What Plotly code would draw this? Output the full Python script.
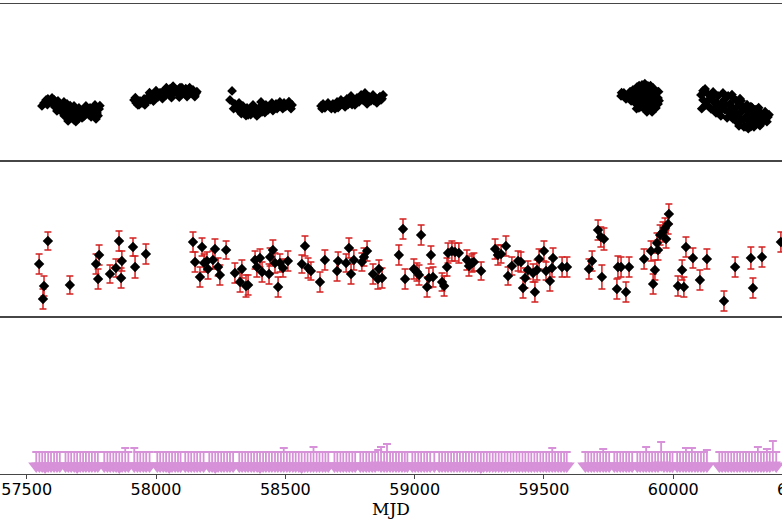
import plotly.graph_objects as go
from plotly.subplots import make_subplots

# ---------------- data ----------------
x_range = [57396.8, 60420.3]
tick_vals = [57500, 58000, 58500, 59000, 59500, 60000]
tick_text = ["57500", "58000", "58500", "59000", "59500", "60000"]
cut_tick_text = "60500"
cut_tick_val = 60500
x_title = "MJD"

# top panel: dense optical light curve (arbitrary flux units)
s1_mjd = [57559, 57567, 57575, 57582, 57590, 57598, 57606, 57613, 57609, 57621,
          57629, 57637, 57629, 57640, 57648, 57652, 57660, 57660, 57667, 57671,
          57679, 57683, 57691, 57695, 57702, 57706, 57714, 57718, 57725, 57729,
          57737, 57745, 57749, 57756, 57764, 57772, 57780, 57768, 57644, 57617,
          57675, 57698, 57722, 57656, 57683,
          57580, 57600, 57625, 57635, 57645, 57655, 57665, 57668, 57680, 57688,
          57700, 57710, 57720, 57733, 57740, 57752, 57760, 57776, 57783, 57662,
          57690]
s1_val = [5.47, 5.77, 6.07, 6.17, 5.97, 6.27, 6.07, 5.77, 5.37, 5.97,
          5.67, 5.47, 5.07, 4.77, 5.27, 4.47, 3.97, 4.87, 4.27, 5.17,
          4.67, 4.07, 4.97, 4.37, 5.27, 4.67, 4.27, 5.07, 4.57, 5.47,
          4.87, 5.27, 4.37, 4.87, 5.57, 4.77, 5.17, 4.17, 5.87, 4.97,
          4.57, 4.87, 4.77, 5.67, 5.47,
          5.6, 5.7, 5.3, 5.0, 4.5, 5.0, 4.7, 5.5, 5.2, 4.5,
          4.2, 5.0, 4.4, 5.1, 4.6, 5.1, 4.5, 4.5, 5.5, 4.2,
          3.9]
s2_mjd = [57915, 57923, 57930, 57938, 57946, 57954, 57961, 57969, 57977, 57984,
          57992, 58000, 58008, 58015, 58023, 58031, 58039, 58046, 58054, 58062,
          58066, 58073, 58081, 58089, 58097, 58104, 58112, 58120, 58128, 58135,
          58143, 58151, 58155, 57957,
          57920, 57935, 57950, 57965, 57980, 57995, 58010, 58020, 58035, 58050,
          58058, 58070, 58085, 58093, 58108, 58115, 58124, 58138, 58148, 58158,
          57975, 58000, 58040, 58066, 58100, 58130,
          57990, 58025, 58060, 58090, 58120, 58150]
s2_val = [6.07, 5.77, 5.57, 5.97, 5.77, 6.17, 5.87, 6.37, 6.07, 6.47,
          6.17, 6.67, 6.37, 6.77, 6.47, 6.97, 6.57, 6.87, 7.17, 6.67,
          7.37, 6.97, 6.77, 7.17, 6.87, 7.07, 6.67, 6.97, 7.17, 6.77,
          7.07, 6.57, 6.77, 5.57,
          6.3, 5.6, 5.9, 6.1, 6.2, 6.4, 6.6, 6.8, 6.7, 6.8,
          7.0, 7.2, 7.0, 7.3, 6.8, 7.2, 6.8, 7.0, 6.8, 6.9,
          6.8, 7.0, 7.3, 7.45, 7.3, 7.3,
          5.95, 6.2, 6.3, 6.35, 6.4, 6.4]
s3_mjd = [58294, 58286, 58305, 58313, 58321, 58329, 58336, 58344, 58352, 58360,
          58363, 58371, 58379, 58387, 58394, 58402, 58410, 58418, 58425, 58433,
          58441, 58448, 58456, 58464, 58472, 58479, 58487, 58495, 58503, 58510,
          58518, 58526, 58375, 58406, 58390, 58356,
          58300, 58317, 58330, 58340, 58348, 58366, 58383, 58398, 58413, 58421,
          58437, 58452, 58468, 58483, 58499, 58514, 58522, 58490]
s3_val = [6.97, 6.07, 5.67, 5.37, 5.77, 5.17, 5.47, 4.97, 5.27, 4.77,
          5.17, 4.87, 5.27, 4.77, 5.07, 5.37, 4.87, 5.27, 5.57, 5.07,
          5.47, 5.77, 5.27, 5.67, 5.37, 5.87, 5.47, 5.77, 5.47, 5.67,
          5.37, 5.57, 5.57, 5.87, 4.47, 4.57,
          5.2, 5.1, 4.7, 5.1, 4.5, 4.6, 5.1, 4.7, 5.1, 4.8,
          5.3, 5.0, 5.2, 5.6, 5.4, 5.9, 5.2, 5.2]
s4_mjd = [58638, 58646, 58653, 58665, 58673, 58684, 58692, 58700, 58708, 58715,
          58723, 58731, 58738, 58746, 58754, 58762, 58769, 58777, 58785, 58793,
          58800, 58808, 58816, 58824, 58831, 58839, 58847, 58854, 58862, 58870,
          58878, 58812,
          58642, 58660, 58678, 58688, 58704, 58719, 58727, 58742, 58750, 58758,
          58773, 58781, 58789, 58804, 58820, 58835, 58843, 58858, 58866, 58874]
s4_val = [5.47, 5.67, 5.27, 5.77, 5.37, 5.67, 5.17, 5.87, 5.47, 6.07,
          5.67, 5.37, 6.17, 5.77, 6.47, 5.97, 5.57, 6.27, 5.87, 6.57,
          6.07, 6.77, 5.67, 6.37, 5.97, 6.57, 6.17, 5.77, 6.27, 6.07,
          6.57, 6.37,
          5.2, 5.5, 5.2, 5.6, 5.3, 5.7, 5.9, 5.6, 6.1, 5.6,
          5.9, 6.0, 6.3, 6.3, 6.0, 6.3, 6.0, 6.0, 6.4, 6.2]
s5_mjd = [59798, 59809, 59817, 59829, 59837, 59844, 59848, 59856, 59860, 59864,
          59871, 59875, 59879, 59883, 59887, 59891, 59894, 59902, 59906, 59910,
          59914, 59918, 59922, 59925, 59929, 59933, 59937, 59941, 59941, 59898,
          59867, 59852, 59894, 59918, 59871, 59906,
          59800, 59822, 59833, 59840, 59852, 59858, 59868, 59876, 59880, 59888,
          59890, 59897, 59903, 59912, 59920, 59927, 59935, 59943, 59945, 59900]
s5_val = [6.47, 6.77, 6.17, 6.57, 5.97, 7.07, 6.37, 5.67, 7.37, 6.77,
          6.07, 5.37, 7.57, 7.07, 6.47, 5.77, 5.07, 7.47, 6.87, 6.17,
          5.47, 4.87, 7.27, 6.57, 5.87, 5.27, 6.87, 6.27, 5.67, 4.87,
          5.27, 6.87, 6.37, 6.07, 6.67, 5.57,
          6.8, 6.3, 6.9, 6.4, 6.1, 5.2, 7.5, 6.9, 5.9, 5.2,
          7.7, 6.0, 5.4, 7.5, 6.7, 7.0, 6.0, 6.9, 6.0, 6.7]
s6_mjd = [60107, 60115, 60123, 60126, 60134, 60142, 60146, 60154, 60161, 60165,
          60173, 60181, 60184, 60192, 60196, 60200, 60208, 60212, 60219, 60223,
          60231, 60235, 60242, 60246, 60250, 60258, 60262, 60270, 60273, 60281,
          60285, 60293, 60297, 60304, 60312, 60316, 60324, 60328, 60335, 60343,
          60351, 60358, 60366, 60254,
          60110, 60118, 60130, 60138, 60150, 60158, 60170, 60177, 60188, 60204,
          60215, 60227, 60238, 60244, 60255, 60266, 60277, 60289, 60300, 60308,
          60320, 60331, 60339, 60347, 60355, 60362, 60370, 60115, 60200, 60227,
          60258, 60285, 60305, 60320, 60290, 60280, 60335, 60262, 60300, 60330]
s6_val = [6.57, 6.07, 7.17, 5.57, 6.67, 6.17, 5.17, 6.87, 5.77, 4.77,
          6.47, 5.37, 4.47, 6.77, 6.07, 5.07, 4.27, 6.47, 5.67, 4.77,
          4.17, 6.17, 5.27, 4.47, 3.77, 5.67, 4.87, 4.07, 3.37, 5.17,
          4.47, 3.67, 4.87, 4.17, 3.37, 5.07, 4.47, 3.77, 4.87, 4.27,
          4.67, 4.17, 4.37, 3.47,
          5.2, 6.8, 5.9, 5.4, 6.3, 5.2, 5.8, 4.9, 5.7, 5.6,
          4.9, 5.3, 4.8, 6.0, 4.3, 5.3, 4.3, 4.1, 3.4, 4.5,
          3.9, 4.4, 3.7, 4.1, 4.9, 3.9, 4.6, 7.0, 6.5, 6.6,
          6.2, 5.6, 5.3, 5.1, 3.2, 3.4, 3.5, 6.0, 5.4, 5.3]

# middle panel: detections with errors
mid_mjd = [57548, 57582, 57567, 57563, 57667, 57768, 57780, 57776, 57822, 57845,
           57857, 57868, 57865, 57911, 57919, 57961, 58143, 58151, 58178, 58170,
           58186, 58197, 58201, 58228, 58220, 58240, 58247, 58271, 58305, 58325,
           58332, 58348, 58356, 58383, 58390, 58402, 58410, 58437, 58441, 58452,
           58460, 58472, 58479, 58491, 58510, 58564, 58576, 58588, 58599, 58634,
           58653, 58700, 58704, 58735, 58746, 58754, 58765, 58796, 58804, 58816,
           58839, 58862, 58858, 58874, 58939, 58955, 58963, 58997, 59009, 59017,
           59025, 59048, 59063, 59055, 59071, 59106, 59114, 59125, 59129, 59144,
           59156, 59171, 59202, 59210, 59222, 59229, 59257, 59311, 59322, 59334,
           59353, 59361, 59376, 59400, 59411, 59419, 59427, 59438, 59458, 59465,
           59473, 59481, 59500, 59508, 59523, 59531, 59535, 59570, 59589, 59674,
           59686, 59709, 59720, 59732, 59724, 59782, 59786, 59798, 59817, 59829,
           59887, 59914, 59922, 59929, 59937, 59941, 59949, 59960, 59968, 59972,
           59980, 59983, 60018, 60034, 60041, 60049, 60076, 60103, 60130, 60196,
           60239, 60300, 60308, 60343, 60416]
mid_val = [5.33, 7.63, 3.13, 1.83, 3.23, 5.33, 6.23, 3.83, 4.33, 4.93,
           7.63, 5.63, 3.93, 7.03, 5.03, 6.33, 7.53, 5.53, 7.03, 4.03,
           5.43, 5.63, 4.83, 6.83, 5.73, 5.03, 4.23, 6.73, 4.43, 3.53,
           4.83, 3.13, 3.23, 5.73, 5.03, 5.93, 4.53, 4.33, 6.03, 6.73,
           5.43, 3.03, 5.43, 4.93, 5.63, 5.33, 7.13, 4.93, 4.63, 3.53,
           5.73, 4.63, 5.63, 5.43, 6.93, 4.33, 5.73, 5.53, 6.03, 6.63,
           4.33, 4.83, 3.83, 3.93, 6.23, 8.83, 3.83, 4.83, 4.53, 4.23,
           8.23, 3.03, 6.23, 3.93, 4.03, 3.53, 3.13, 5.03, 6.43, 6.63,
           6.53, 6.43, 5.73, 5.13, 5.43, 5.53, 4.63, 6.83, 6.23, 6.33,
           7.13, 4.13, 5.13, 5.63, 5.53, 2.93, 3.93, 4.73, 4.43, 2.53,
           4.73, 5.83, 6.63, 4.63, 3.63, 4.93, 5.93, 5.03, 5.03, 4.83,
           5.63, 8.73, 8.03, 7.83, 4.03, 2.83, 5.03, 5.03, 2.53, 5.03,
           5.83, 6.63, 3.33, 4.73, 7.43, 6.73, 8.23, 8.53, 8.93, 7.83,
           9.33, 10.33, 3.13, 4.73, 3.03, 7.03, 5.93, 3.73, 5.83, 1.63,
           5.03, 5.93, 2.93, 6.03, 7.53]
mid_err = [1.0, 0.9, 1.0, 1.0, 0.9, 1.0, 1.0, 1.0, 0.9, 0.9,
           1.0, 1.0, 1.0, 0.9, 1.1, 1.0, 1.0, 1.0, 0.9, 1.0,
           0.9, 0.9, 1.0, 1.0, 0.9, 0.9, 1.0, 0.9, 1.0, 1.0,
           0.9, 1.1, 1.0, 0.9, 1.0, 0.9, 1.0, 1.0, 0.9, 1.0,
           1.0, 1.0, 0.9, 0.9, 1.0, 0.9, 1.0, 1.0, 0.9, 1.0,
           1.0, 1.0, 0.9, 0.9, 1.0, 1.0, 1.0, 0.9, 0.9, 1.0,
           1.0, 0.9, 1.0, 1.0, 1.0, 1.0, 1.0, 1.0, 0.9, 1.0,
           1.0, 1.0, 0.9, 1.0, 1.0, 0.9, 1.0, 0.9, 1.0, 1.0,
           0.9, 1.0, 1.0, 1.0, 0.9, 0.9, 0.9, 1.0, 1.0, 0.9,
           1.0, 0.9, 0.9, 1.0, 1.0, 1.0, 1.0, 0.9, 0.9, 1.0,
           1.0, 1.0, 1.0, 0.9, 1.0, 0.9, 1.0, 1.0, 1.0, 1.0,
           1.0, 1.0, 1.0, 1.1, 1.2, 1.0, 1.1, 1.0, 1.0, 1.0,
           1.0, 1.0, 1.0, 1.0, 1.0, 1.0, 1.0, 1.0, 1.0, 0.9,
           1.0, 1.0, 1.0, 1.0, 1.0, 1.0, 1.0, 1.0, 1.0, 1.0,
           1.0, 1.1, 1.0, 1.0, 1.0]

# bottom panel: upper limits
ul_mjd = [57537, 57549, 57560, 57571, 57583, 57594, 57606, 57617, 57628,
          57650, 57661, 57672, 57684, 57695, 57707, 57718, 57729, 57741, 57752, 57764, 57775,
          57800, 57812, 57823, 57835, 57846, 57858, 57869, 57881, 57893,
          57916, 57928, 57939, 57951, 57962, 57975,
          58005, 58016, 58028, 58039, 58051, 58062, 58074, 58085, 58095,
          58113, 58125, 58136, 58148, 58159, 58171, 58184,
          58206, 58217, 58229, 58240, 58252, 58263, 58275, 58286, 58298,
          58322, 58333, 58345, 58356, 58368, 58379, 58391, 58402, 58414, 58425,
          58437, 58448, 58460, 58471, 58483, 58494, 58506, 58517, 58529, 58540,
          58552, 58563, 58575, 58586, 58598, 58609, 58621, 58632, 58644, 58655, 58666,
          58690, 58701, 58713, 58724, 58736, 58747, 58759, 58770,
          58790, 58801, 58813, 58824, 58836, 58847, 58859, 58870, 58882, 58893,
          58905, 58916, 58928, 58939, 58951, 58962, 58972,
          58991, 59002, 59014, 59025, 59037, 59048, 59060, 59076,
          59095, 59106, 59118, 59129, 59141, 59152, 59164, 59175, 59187, 59198,
          59210, 59221, 59233, 59244, 59256, 59267, 59279, 59290, 59302, 59313,
          59325, 59336, 59348, 59359, 59371, 59382, 59394, 59405, 59417, 59428,
          59440, 59451, 59463, 59474, 59486, 59497, 59509, 59520, 59532, 59543,
          59555, 59566, 59578, 59588,
          59660, 59671, 59683, 59694, 59706, 59717, 59729, 59740, 59752,
          59772, 59783, 59795, 59806, 59818, 59829, 59841,
          59861, 59872, 59884, 59895, 59907, 59918, 59930, 59941, 59953, 59964,
          59976, 59987, 59997,
          60015, 60026, 60038, 60049, 60061, 60072, 60084, 60095, 60107, 60118, 60130,
          60178, 60189, 60201, 60212, 60224, 60235, 60247, 60258, 60270, 60281,
          60293, 60304, 60316, 60327, 60339, 60350, 60362, 60373, 60385, 60398]
ul_val = [0.8, 0.8, 0.8, 0.7, 0.8, 0.8, 0.8, 0.8, 0.8,
          0.8, 0.8, 0.8, 0.8, 0.7, 0.8, 0.8, 0.8, 0.8, 0.8, 0.8, 0.8,
          0.8, 0.8, 0.8, 0.8, 0.8, 0.7, 0.8, 0.8, 0.8,
          0.8, 0.8, 0.8, 0.8, 0.8, 0.8,
          0.8, 0.8, 0.8, 0.8, 0.7, 0.8, 0.8, 0.8, 0.8,
          0.8, 0.8, 0.8, 0.8, 0.8, 0.8, 0.8,
          0.8, 0.8, 0.7, 0.8, 0.8, 0.8, 0.8, 0.8, 0.8,
          0.8, 0.8, 0.8, 0.8, 0.8, 0.8, 0.8, 0.7, 0.8, 0.8,
          0.8, 0.8, 0.8, 0.8, 0.8, 0.8, 0.8, 0.8, 0.8, 0.8,
          0.8, 0.7, 0.8, 0.8, 0.8, 0.8, 0.8, 0.8, 0.8, 0.8, 0.8,
          0.8, 0.8, 0.8, 0.8, 0.8, 0.8, 0.8, 0.8,
          0.8, 0.8, 0.8, 0.8, 0.8, 0.8, 0.9, 0.8, 0.8, 0.8,
          0.8, 0.8, 0.8, 0.8, 0.8, 0.8, 0.8,
          0.8, 0.8, 0.8, 0.8, 0.8, 0.8, 0.8, 0.8,
          0.8, 0.8, 0.8, 0.8, 0.8, 0.8, 0.8, 0.8, 0.8, 0.8,
          0.8, 0.8, 0.8, 0.8, 0.7, 0.8, 0.8, 0.8, 0.8, 0.8,
          0.8, 0.8, 0.8, 0.8, 0.8, 0.8, 0.8, 0.8, 0.8, 0.8,
          0.8, 0.8, 0.8, 0.8, 0.8, 0.8, 0.8, 0.8, 0.8, 0.8,
          0.8, 0.8, 0.8, 0.8,
          0.8, 0.8, 0.8, 0.8, 0.8, 0.8, 0.8, 0.8, 0.8,
          0.8, 0.8, 0.8, 0.8, 0.8, 0.8, 0.8,
          0.8, 0.8, 0.8, 0.8, 0.8, 0.8, 0.8, 0.8, 0.9, 0.8,
          0.8, 0.8, 0.8,
          0.8, 0.8, 0.8, 0.8, 0.8, 0.8, 0.8, 0.8, 0.8, 0.8, 0.8,
          0.8, 0.8, 0.8, 0.8, 0.8, 0.8, 0.8, 0.8, 0.8, 0.8,
          0.8, 0.8, 0.8, 0.8, 0.8, 0.8, 0.8, 0.8, 0.9, 0.8]
ul_err = [1.4, 1.4, 1.4, 1.5, 1.4, 1.4, 1.4, 1.4, 1.4,
          1.4, 1.4, 1.4, 1.4, 1.5, 1.4, 1.4, 1.4, 1.4, 1.4, 1.4, 1.4,
          1.4, 1.4, 1.4, 1.4, 1.4, 1.5, 1.4, 1.8, 1.4,
          1.8, 1.4, 1.4, 1.4, 1.4, 1.4,
          1.4, 1.4, 1.4, 1.4, 1.5, 1.4, 1.4, 1.4, 1.4,
          1.4, 1.4, 1.4, 1.4, 1.4, 1.4, 1.4,
          1.4, 1.4, 1.5, 1.4, 1.4, 1.4, 1.4, 1.4, 1.4,
          1.4, 1.4, 1.4, 1.4, 1.4, 1.4, 1.4, 1.5, 1.4, 1.4,
          1.4, 1.4, 1.4, 1.4, 1.4, 1.8, 1.4, 1.4, 1.4, 1.4,
          1.4, 1.5, 1.4, 1.4, 1.4, 1.9, 1.4, 1.4, 1.4, 1.4, 1.4,
          1.4, 1.4, 1.4, 1.4, 1.4, 1.4, 1.4, 1.4,
          1.4, 1.4, 1.4, 1.4, 1.4, 1.4, 1.5, 1.9, 1.4, 2.2,
          1.4, 1.4, 1.4, 1.4, 1.4, 1.4, 1.4,
          1.4, 1.4, 1.4, 1.4, 1.4, 1.4, 1.4, 1.4,
          1.4, 1.4, 1.4, 1.4, 1.4, 1.4, 1.4, 1.4, 1.4, 1.4,
          1.4, 1.4, 1.4, 1.4, 1.5, 1.4, 1.4, 1.4, 1.4, 1.4,
          1.4, 1.4, 1.4, 1.4, 1.4, 1.4, 1.4, 1.4, 1.4, 1.4,
          1.4, 1.4, 1.4, 1.4, 1.4, 1.4, 1.4, 1.4, 1.8, 1.4,
          1.4, 1.4, 1.4, 1.4,
          1.4, 1.4, 1.4, 1.4, 1.4, 1.4, 1.7, 1.4, 1.4,
          1.4, 1.4, 1.4, 1.4, 1.4, 1.4, 1.4,
          1.4, 1.4, 1.4, 1.9, 1.4, 1.4, 1.4, 1.4, 2.3, 1.4,
          1.4, 1.4, 1.4,
          1.4, 1.4, 1.4, 1.8, 1.4, 1.8, 1.4, 1.4, 1.4, 1.4, 1.6,
          1.4, 1.4, 1.4, 1.4, 1.4, 1.4, 1.4, 1.4, 1.4, 1.4,
          1.4, 1.4, 1.4, 1.9, 1.4, 1.4, 1.7, 1.4, 2.4, 1.4]

assert len(mid_mjd) == len(mid_val) == len(mid_err)
assert len(ul_mjd) == len(ul_val) == len(ul_err)
for a, b in [(s1_mjd, s1_val), (s2_mjd, s2_val), (s3_mjd, s3_val),
             (s4_mjd, s4_val), (s5_mjd, s5_val), (s6_mjd, s6_val)]:
    assert len(a) == len(b)

opt_mjd = s1_mjd + s2_mjd + s3_mjd + s4_mjd + s5_mjd + s6_mjd
opt_val = s1_val + s2_val + s3_val + s4_val + s5_val + s6_val

# ---------------- figure ----------------
W, H = 782, 521
M_T, M_B = 4, 47
fig = make_subplots(rows=3, cols=1, shared_xaxes=True, vertical_spacing=0)

fig.add_trace(go.Scatter(x=opt_mjd, y=opt_val, mode="markers",
                         marker=dict(symbol="diamond", size=7.5, color="black",
                                     line=dict(width=0)),
                         showlegend=False), row=1, col=1)

fig.add_trace(go.Scatter(x=mid_mjd, y=mid_val, mode="markers",
                         marker=dict(symbol="diamond", size=8, color="black",
                                     line=dict(width=0)),
                         error_y=dict(type="data", array=mid_err, visible=True,
                                      color="rgb(212,32,32)", thickness=1.5, width=3.5),
                         showlegend=False), row=2, col=1)

ul_col = "rgb(214,145,216)"
fig.add_trace(go.Scatter(x=ul_mjd, y=ul_val, mode="markers",
                         marker=dict(symbol="triangle-down", size=14, color=ul_col,
                                     line=dict(width=0)),
                         error_y=dict(type="data", symmetric=False, array=ul_err,
                                      arrayminus=[0] * len(ul_err), visible=True,
                                      color=ul_col, thickness=1.8, width=4),
                         showlegend=False), row=3, col=1)

tick_font = "DejaVu Sans"
title_font = "DejaVu Serif"
axis_line = "rgb(70,70,70)"
for i in range(1, 4):
    fig.update_xaxes(range=x_range, showgrid=False, zeroline=False,
                     showline=True, mirror=True, linecolor=axis_line, linewidth=1,
                     ticks="", showticklabels=False, row=i, col=1)
    fig.update_yaxes(range=[0, 15.667], showgrid=False, zeroline=False,
                     showline=False, ticks="", showticklabels=False,
                     row=i, col=1)

fig.update_xaxes(ticks="outside", ticklen=4, tickwidth=1, tickcolor=axis_line,
                 showticklabels=True, tickvals=tick_vals, ticktext=tick_text,
                 ticklabelstandoff=-3,
                 tickfont=dict(family=tick_font, size=16, color="black"),
                 title=dict(text=x_title, standoff=0,
                            font=dict(family=title_font, size=17, color="black")),
                 row=3, col=1)

fig.add_annotation(x=(cut_tick_val - x_range[0]) / (x_range[1] - x_range[0]),
                   y=-0.032, xref="paper", yref="paper", text=cut_tick_text,
                   showarrow=False, xanchor="center", yanchor="middle",
                   font=dict(family=tick_font, size=16, color="black"))

fig.update_layout(width=W, height=H, margin=dict(l=0, r=0, t=M_T, b=M_B),
                  plot_bgcolor="white", paper_bgcolor="white")

fig.write_html("out.html")
